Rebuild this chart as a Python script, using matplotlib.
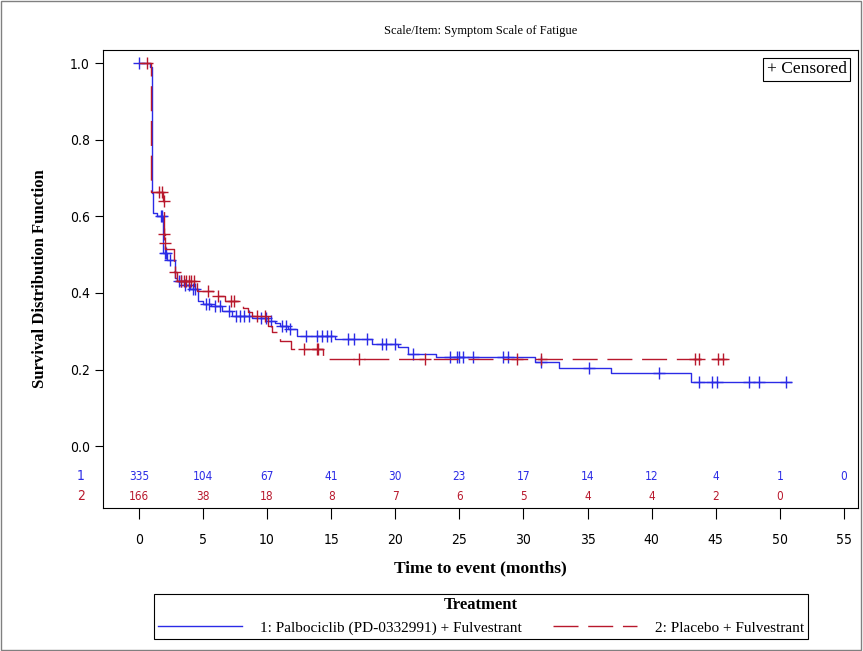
import numpy as np
import matplotlib
matplotlib.use("Agg")
import matplotlib.pyplot as plt
from matplotlib.lines import Line2D
from matplotlib.patches import Rectangle

# Kaplan-Meier step data
blue_t = [0, 0.9, 1.0, 1.1, 1.4, 1.9, 2.2, 2.8, 3.0, 3.5, 4.0, 4.6, 5.0, 5.6, 6.5, 7.3, 8.8,
          10.1, 10.6, 11.0, 11.6, 12.3, 15.3, 18.2, 20.2, 21.0, 23.2, 30.9, 32.8, 36.8, 43.1]
blue_s = [1.0, 0.99, 0.66, 0.61, 0.60, 0.505, 0.485, 0.44, 0.43, 0.42, 0.41, 0.38, 0.372, 0.365,
          0.354, 0.341, 0.335, 0.328, 0.323, 0.315, 0.305, 0.289, 0.281, 0.268, 0.26, 0.242, 0.232,
          0.219, 0.203, 0.19, 0.169]
blue_end = 50.9
blue_cens = [0.0, 1.7, 1.8, 2.0, 2.1, 2.4, 3.1, 3.3, 3.6, 3.9, 4.2, 4.4, 5.2, 5.5, 5.9, 6.3, 7.0,
             7.6, 7.9, 8.2, 8.6, 9.5, 9.9, 10.3, 11.2, 11.5, 11.8, 13.0, 13.9, 14.3, 14.7, 15.0,
             16.3, 16.8, 17.8, 19.0, 19.3, 20.0, 21.4, 24.3, 24.8, 25.0, 25.3, 26.1, 28.4, 28.8,
             31.4, 35.1, 40.6, 43.7, 44.7, 45.1, 47.6, 48.4, 50.5]

red_t = [0, 0.95, 1.9, 1.95, 2.0, 2.05, 2.7, 3.0, 4.5, 5.8, 6.7, 8.1, 8.5, 8.8, 10.1, 10.4, 11.0,
         11.9, 14.4]
red_s = [1.0, 0.664, 0.64, 0.555, 0.53, 0.515, 0.456, 0.432, 0.406, 0.393, 0.38, 0.362, 0.35,
         0.341, 0.315, 0.297, 0.276, 0.255, 0.227]
red_end = 45.9
red_cens = [0.6, 1.6, 1.8, 1.92, 1.97, 2.02, 2.8, 3.3, 3.5, 3.7, 3.9, 4.1, 4.3, 5.4, 6.2, 7.2,
            7.4, 9.2, 9.8, 12.9, 13.9, 14.0, 17.2, 22.3, 29.5, 31.4, 43.4, 43.7, 45.2, 45.6]

risk_times = [0, 5, 10, 15, 20, 25, 30, 35, 40, 45, 50, 55]
risk_blue = [335, 104, 67, 41, 30, 23, 17, 14, 12, 4, 1, 0]
risk_red = [166, 38, 18, 8, 7, 6, 5, 4, 4, 2, 0]

BLUE = "#2B2BE6"
RED = "#B8182C"
DASH = (0, (18, 7))
serif = ["Liberation Serif", "DejaVu Serif"]
narrow = dict(family="DejaVu Sans", fontstretch="condensed")


def step_value(times, surv, x):
    idx = np.searchsorted(times, x, side="right") - 1
    return np.array(surv)[idx]


fig = plt.figure(figsize=(8.63, 6.51), dpi=100)
fig.patches.append(Rectangle((0.001, 0.001), 0.997, 0.997, transform=fig.transFigure,
                             fill=False, ec="#808080", lw=1))
ax = fig.add_axes([103 / 863, 1 - 508 / 651, 755 / 863, 458 / 651])

for t, s, end, cens, col, ls in [(blue_t, blue_s, blue_end, blue_cens, BLUE, "-"),
                                 (red_t, red_s, red_end, red_cens, RED, DASH)]:
    ax.step(list(t) + [end], list(s) + [s[-1]], where="post", color=col, lw=1, ls=ls)
    ax.plot(cens, step_value(t, s, cens), ls="none", marker="+", ms=9, mew=1, color=col)

ax.set_xlim(-2.8, 56.1)
ax.set_ylim(-0.161, 1.034)
ax.set_xticks(risk_times)
ax.set_yticks([0.0, 0.2, 0.4, 0.6, 0.8, 1.0])
ax.set_yticklabels(["0.0", "0.2", "0.4", "0.6", "0.8", "1.0"], fontsize=10, **narrow)
ax.set_xticklabels([str(v) for v in risk_times], fontsize=10, **narrow)
ax.tick_params(axis="x", length=8, pad=10)
ax.tick_params(axis="y", length=6)

# number at risk rows
for i, v in enumerate(risk_blue):
    ax.text(risk_times[i], -0.078, str(v), ha="center", va="center", color=BLUE,
            fontsize=8.5, **narrow)
for i, v in enumerate(risk_red):
    ax.text(risk_times[i], -0.130, str(v), ha="center", va="center", color=RED,
            fontsize=8.5, **narrow)
ax.text(-0.024, -0.078, "1", transform=ax.get_yaxis_transform(), ha="right", va="center",
        color=BLUE, fontsize=10, **narrow)
ax.text(-0.024, -0.130, "2", transform=ax.get_yaxis_transform(), ha="right", va="center",
        color=RED, fontsize=10, **narrow)

ax.set_xlabel("Time to event (months)", family=serif, fontsize=12.5, fontweight="bold",
              labelpad=10)
ax.set_ylabel("Survival Distribution Function", family=serif, fontsize=12, fontweight="bold",
              labelpad=16)
fig.text(481 / 863, 1 - 31 / 651, "Scale/Item: Symptom Scale of Fatigue", ha="center",
         va="center", family=serif, fontsize=9)

ax.text(0.985, 0.975, "+ Censored", transform=ax.transAxes, ha="right", va="top",
        family=serif, fontsize=12.5,
        bbox=dict(boxstyle="square,pad=0.2", fc="white", ec="black", lw=0.8))

handles = [Line2D([], [], color=BLUE, lw=1),
           Line2D([], [], color=RED, lw=1, ls=DASH)]
leg = fig.legend(handles, ["1: Palbociclib (PD-0332991) + Fulvestrant", "2: Placebo + Fulvestrant"],
                 loc="upper center", bbox_to_anchor=(481 / 863, 1 - 586 / 651), ncol=2,
                 title="Treatment", fancybox=False, edgecolor="black", framealpha=1,
                 prop={"family": serif, "size": 11}, handlelength=5.5, borderpad=0.25,
                 columnspacing=2.0, handletextpad=1.2)
leg.get_frame().set_linewidth(0.8)
leg.get_title().set_fontfamily(serif)
leg.get_title().set_fontweight("bold")
leg.get_title().set_fontsize(12)

fig.savefig("out.png", dpi=100)
